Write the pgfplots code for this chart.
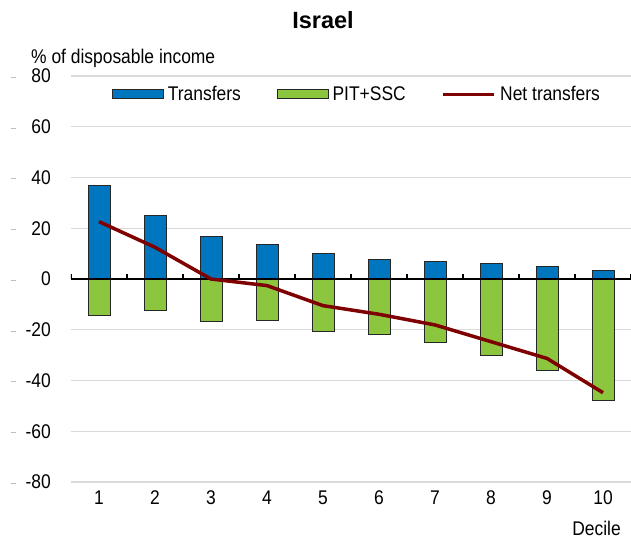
\documentclass[border=0pt]{standalone}
\usepackage{pgfplots}
\pgfplotsset{compat=1.18}
\usepackage{fontspec}
\setmainfont{Liberation Sans}
\newfontfamily\cond[FakeStretch=0.88]{Liberation Sans}
\definecolor{oblue}{RGB}{0,118,190}
\definecolor{ogreen}{RGB}{140,198,63}
\definecolor{ored}{RGB}{127,0,0}
\definecolor{ogrid}{RGB}{217,217,217}
\definecolor{odash}{RGB}{190,190,190}
\newcommand\lab{\fontsize{17.5}{21}\selectfont}
\newcommand\clab{\cond\fontsize{19.8}{23}\selectfont}
\begin{document}
\begin{tikzpicture}
\useasboundingbox (-71pt,-60pt) rectangle (560pt,482pt);
\begin{axis}[
  at={(0,0)}, anchor=south west, scale only axis,
  width=560pt, height=406pt,
  xmin=0.5, xmax=10.5, ymin=-80, ymax=80,
  xtick={1,...,10}, ytick={-80,-60,...,80},
  axis line style={draw=none},
  major tick length=0pt,
  ymajorgrids, grid style={ogrid, line width=1.4pt},
  /pgf/number format/assume math mode=true,
  ticklabel style={font=\clab},
  xticklabel style={anchor=center, yshift=-16pt},
  yticklabel style={anchor=east, inner sep=0pt, xshift=-20pt},
  yticklabel={\makebox[40pt]{\textcolor{odash}{\rule[0.25em]{5pt}{1pt}}\hfill\pgfmathprintnumber{\tick}}},
  legend style={draw=none, fill=none, at={(rel axis cs:0.073,0.955)}, anchor=west,
    font=\clab, inner sep=0pt, /tikz/every even column/.append style={column sep=34pt}},
  legend columns=3,
]
\addplot[ybar, bar width=0.39, bar shift=0pt, fill=oblue, draw=black!85, line width=0.8pt,
  legend image code/.code={\draw[fill=oblue,draw=black!85,line width=0.8pt] (0pt,-4.5pt) rectangle (51pt,4.5pt);}]
  coordinates {(1,37.0) (2,25.0) (3,16.7) (4,13.7) (5,10.1) (6,7.8) (7,6.8) (8,6.2) (9,4.9) (10,3.3)};
\addlegendentry{\hspace{2pt}Transfers}
\addplot[ybar, bar width=0.39, bar shift=0pt, fill=ogreen, draw=black!85, line width=0.8pt,
  legend image code/.code={\draw[fill=ogreen,draw=black!85,line width=0.8pt] (0pt,-4.5pt) rectangle (51pt,4.5pt);}]
  coordinates {(1,-14.5) (2,-12.5) (3,-16.8) (4,-16.4) (5,-20.6) (6,-21.8) (7,-25.0) (8,-30.3) (9,-36.0) (10,-48.0)};
\addlegendentry{\hspace{2pt}PIT+SSC}
\draw[black, line width=1.3pt] (axis cs:0.5,0) -- (axis cs:10.5,0);
\pgfplotsinvokeforeach{0.5,1.5,2.5,3.5,4.5,5.5,6.5,7.5,8.5,9.5,10.5}{
  \draw[black, line width=1.3pt] (axis cs:#1,0) -- ++(0pt,5pt);
}
\addplot[ored, line width=3.5pt, mark=none, line join=round,
  legend image code/.code={\draw[ored,line width=3.5pt] (0pt,0pt) -- (51pt,0pt);}]
  coordinates {(1,22.6) (2,12.5) (3,0.0) (4,-2.6) (5,-10.5) (6,-13.9) (7,-18.1) (8,-24.7) (9,-31.3) (10,-44.8)};
\addlegendentry{\hspace{2pt}Net transfers}
\end{axis}
\node[font=\fontsize{23.5}{28}\selectfont\bfseries] at (252pt,462pt) {Israel};
\node[font=\clab, anchor=west, inner sep=0pt] at (-40pt,424pt) {\% of disposable income};
\node[font=\clab, anchor=east, inner sep=0pt] at (550pt,-46pt) {Decile};
\end{tikzpicture}
\end{document}
